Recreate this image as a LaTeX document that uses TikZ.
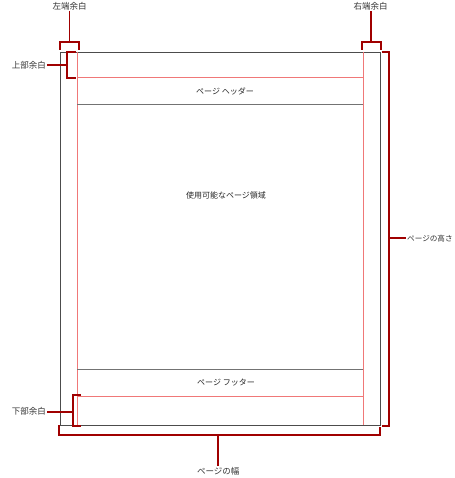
\documentclass[tikz,border=0pt]{standalone}
\usepackage{fontspec}
\newfontfamily\cjk{Noto Sans CJK JP}
\definecolor{darkred}{HTML}{A00000}
\definecolor{marginpink}{HTML}{F07878}
\tikzset{
  page/.style={draw=black!70,line width=0.9pt},
  marginline/.style={draw=marginpink,line width=0.6pt},
  rule/.style={draw=black!55,line width=0.6pt},
  brace/.style={draw=darkred,line width=1.7pt},
  lbl/.style={font=\cjk\fontsize{8.5}{10}\selectfont,text=black!80,inner sep=1pt},
  area/.style={font=\cjk\fontsize{8}{10}\selectfont,text=black!85}
}
\begin{document}
\begin{tikzpicture}[x=1pt,y=-1pt]
  \useasboundingbox (0,0) rectangle (454,478);

  % page and margins
  \draw[page] (60,52) rectangle (380,425);
  \draw[marginline] (77.3,52) -- (77.3,425);
  \draw[marginline] (363.3,52) -- (363.3,425);
  \draw[marginline] (77.3,77.3) -- (363.3,77.3);
  \draw[marginline] (77.3,396) -- (363.3,396);
  \draw[rule] (77.3,104) -- (363.3,104);
  \draw[rule] (77.3,369) -- (363.3,369);

  \node[area] (header) at (225,91) {ページ ヘッダー};
  \node[area] (body) at (226,195) {使用可能なページ領域};
  \node[area] (footer) at (226,383) {ページ フッター};

  % labels
  \node[lbl] (leftm) at (69.5,6) {左端余白};
  \node[lbl] (rightm) at (370.7,6) {右端余白};
  \node[lbl,anchor=east] (topm) at (47,65) {上部余白};
  \node[lbl,anchor=east] (botm) at (47,411.7) {下部余白};
  \node[lbl] (width) at (218.3,471) {ページの幅};
  \node[lbl,anchor=west,font=\cjk\fontsize{7.6}{9}\selectfont] (height) at (406,238.3) {ページの高さ};

  % brackets
  \draw[brace] (60,50) |- (79,41.7) -- (79,50);
  \coordinate (leftb) at (69.5,41.7);
  \draw[brace] (leftb) -- (leftm);

  \draw[brace] (362,50) |- (380.7,41.7) -- (380.7,50);
  \coordinate (rightb) at (370.7,41.7);
  \draw[brace] (rightb) -- (rightm);

  \draw[brace] (76,52) -| (67.3,78) -- (76,78);
  \coordinate (topb) at (67.3,65);
  \draw[brace] (topb) -- (topm);

  \draw[brace] (81,394.7) -| (73.3,426) -- (81,426);
  \coordinate (botb) at (73.3,411.7);
  \draw[brace] (botb) -- (botm);

  \draw[brace] (59,425) |- (380,435.3) -- (380,426.5);
  \coordinate (widthb) at (218.3,435.3);
  \draw[brace] (widthb) -- (width);

  \draw[brace] (381.5,52.3) -| (389.3,425.7) -- (381.5,425.7);
  \coordinate (heightb) at (389.3,238.3);
  \draw[brace] (heightb) -- (height);
\end{tikzpicture}
\end{document}
